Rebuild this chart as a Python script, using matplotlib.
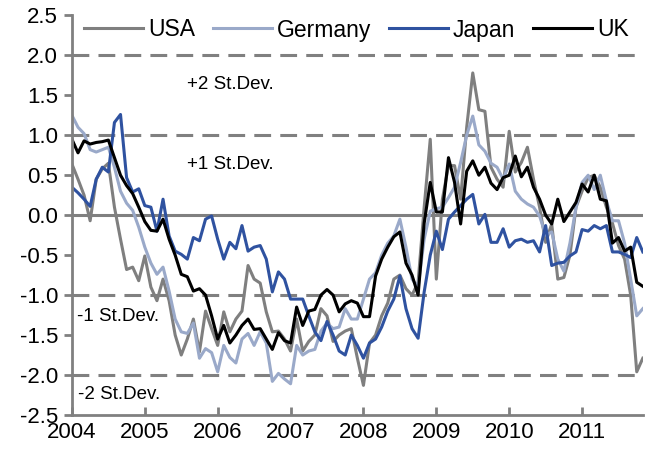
import matplotlib
matplotlib.use("Agg")
import matplotlib.pyplot as plt
import numpy as np

plt.rcParams['font.family'] = ['Liberation Sans', 'DejaVu Sans']

# monthly values, Jan 2004 .. Nov 2011
usa = [0.64, 0.45, 0.25, -0.07, 0.45, 0.58, 0.65, 0.10, -0.30, -0.68, -0.65, -0.82,
       -0.51, -0.90, -1.07, -0.80, -1.07, -1.50, -1.75, -1.55, -1.30, -1.71, -1.20, -1.42,
       -1.63, -1.21, -1.46, -1.30, -1.20, -0.63, -0.80, -0.85, -1.21, -1.46, -1.45, -1.55,
       -1.70, -1.30, -1.70, -1.58, -1.50, -1.17, -1.26, -1.58, -1.50, -1.45, -1.42, -1.79,
       -2.13, -1.60, -1.50, -1.26, -1.10, -0.80, -0.75, -0.92, -1.00, -0.84, 0.10, 0.95,
       -0.80, 0.20, 0.62, 0.62, 0.20, 1.10, 1.78, 1.32, 1.30, 0.60, 0.45, 0.35,
       1.05, 0.54, 0.66, 0.85, 0.45, 0.10, -0.34, -0.11, -0.80, -0.78, -0.50, 0.10,
       0.30, 0.47, 0.50, 0.35, 0.10, -0.10, -0.38, -0.55, -1.00, -1.96, -1.79]
germany = [1.25, 1.10, 1.02, 0.82, 0.79, 0.82, 0.85, 0.60, 0.30, 0.15, 0.06, -0.15,
           -0.40, -0.60, -0.74, -0.65, -0.95, -1.30, -1.46, -1.48, -1.35, -1.79, -1.67, -1.72,
           -1.96, -1.63, -1.78, -1.85, -1.55, -1.48, -1.63, -1.46, -1.60, -2.08, -1.98, -2.05,
           -2.11, -1.63, -1.75, -1.70, -1.68, -1.45, -1.35, -1.42, -1.40, -1.17, -1.30, -1.30,
           -1.05, -0.80, -0.72, -0.50, -0.35, -0.26, -0.05, -0.40, -0.80, -0.90, -0.30, 0.05,
           0.08, 0.10, 0.22, 0.35, 0.66, 1.00, 1.24, 0.88, 0.80, 0.65, 0.60, 0.45,
           0.64, 0.30, 0.20, 0.14, 0.10, -0.01, -0.25, -0.21, -0.55, -0.70, -0.35, 0.10,
           0.41, 0.50, 0.32, 0.50, 0.18, -0.07, -0.07, -0.35, -0.80, -1.26, -1.17]
japan = [0.35, 0.28, 0.20, 0.11, 0.45, 0.60, 0.54, 1.16, 1.26, 0.47, 0.29, 0.33,
         0.12, 0.10, -0.20, 0.20, -0.26, -0.45, -0.49, -0.55, -0.28, -0.32, -0.05, -0.01,
         -0.30, -0.55, -0.34, -0.42, -0.13, -0.45, -0.40, -0.38, -0.55, -0.96, -0.71, -0.80,
         -1.05, -1.05, -1.05, -1.26, -1.46, -1.57, -1.33, -1.50, -1.70, -1.75, -1.50, -1.63,
         -1.79, -1.60, -1.55, -1.40, -1.20, -1.05, -0.76, -1.17, -1.42, -1.54, -0.96, -0.50,
         -0.20, -0.43, -0.05, 0.04, 0.12, 0.20, 0.26, -0.11, 0.01, -0.34, -0.34, -0.17,
         -0.40, -0.32, -0.30, -0.34, -0.32, -0.46, -0.13, -0.63, -0.60, -0.59, -0.51, -0.46,
         -0.18, -0.20, -0.13, -0.17, -0.13, -0.46, -0.46, -0.49, -0.53, -0.28, -0.46]
uk = [0.95, 0.78, 0.93, 0.89, 0.91, 0.92, 0.94, 0.72, 0.50, 0.37, 0.27, 0.10,
      -0.08, -0.19, -0.20, -0.05, -0.30, -0.50, -0.74, -0.77, -0.95, -0.92, -1.00, -1.26,
      -1.55, -1.38, -1.60, -1.50, -1.38, -1.30, -1.43, -1.42, -1.55, -1.68, -1.47, -1.57,
      -1.60, -1.15, -1.38, -1.20, -1.18, -1.00, -0.93, -1.00, -1.21, -1.11, -1.07, -1.10,
      -1.27, -1.27, -0.76, -0.55, -0.40, -0.27, -0.21, -0.60, -0.75, -1.00, -0.10, 0.41,
      0.04, 0.04, 0.72, 0.41, -0.11, 0.55, 0.68, 0.50, 0.60, 0.40, 0.32, 0.47,
      0.50, 0.74, 0.48, 0.60, 0.35, 0.20, 0.00, -0.11, 0.20, -0.08, 0.04, 0.16,
      0.39, 0.29, 0.50, 0.20, 0.18, -0.35, -0.28, -0.45, -0.40, -0.84, -0.89]

names = ['USA', 'Germany', 'Japan', 'UK']
colors = ['#7f7f7f', '#9aa9c9', '#2f52a0', '#000000']
years = [2004, 2005, 2006, 2007, 2008, 2009, 2010, 2011]
sd_levels = [2, 1, -1, -2]
sd_labels = ['+2 St.Dev.', '+1 St.Dev.', '-1 St.Dev.', '-2 St.Dev.']

t = 2004 + np.arange(len(uk)) / 12.0

fig = plt.figure(figsize=(6.48, 4.53), dpi=100)
ax = fig.add_axes([0.111, 0.084, 0.881, 0.882])

grey = '#808080'
ax.axhline(0, color=grey, lw=2.2, zorder=1)
for lev in sd_levels:
    ax.axhline(lev, color=grey, lw=2.2, dashes=(5.5, 3), zorder=1)

for vals, name, col in zip([usa, germany, japan, uk], names, colors):
    ax.plot(t, vals, color=col, lw=2.2, label=name, zorder=2)

# st.dev. band labels
lab_kw = dict(fontsize=13.5, va='center')
ax.text(2005.58, 1.64, sd_labels[0], **lab_kw)
ax.text(2005.58, 0.64, sd_labels[1], **lab_kw)
ax.text(2004.07, -1.27, sd_labels[2], **lab_kw)
ax.text(2004.08, -2.25, sd_labels[3], **lab_kw)

ax.set_xlim(t[0], t[-1])
ax.set_ylim(-2.5, 2.5)
ax.set_yticks(np.arange(-2.5, 2.51, 0.5))
ax.set_yticklabels([f'{v:.1f}' for v in np.arange(-2.5, 2.51, 0.5)])
ax.set_xticks(years)
ax.set_xticklabels([str(y) for y in years])

for s in ['top', 'right']:
    ax.spines[s].set_visible(False)
for s in ['left', 'bottom']:
    ax.spines[s].set_color(grey)
    ax.spines[s].set_linewidth(2)
ax.tick_params(axis='y', direction='out', length=6, width=2, color=grey, labelsize=16, pad=4)
ax.tick_params(axis='x', direction='in', length=6, width=2, color=grey, labelsize=16, pad=5)

ax.legend(loc='center left', bbox_to_anchor=(84 / 648, 1 - 30 / 453),
          bbox_transform=fig.transFigure, ncol=4, frameon=False, borderpad=0,
          borderaxespad=0, fontsize=16.5, handlelength=2.57, handletextpad=0.22,
          columnspacing=0.78)

fig.savefig('out.png', dpi=100)
